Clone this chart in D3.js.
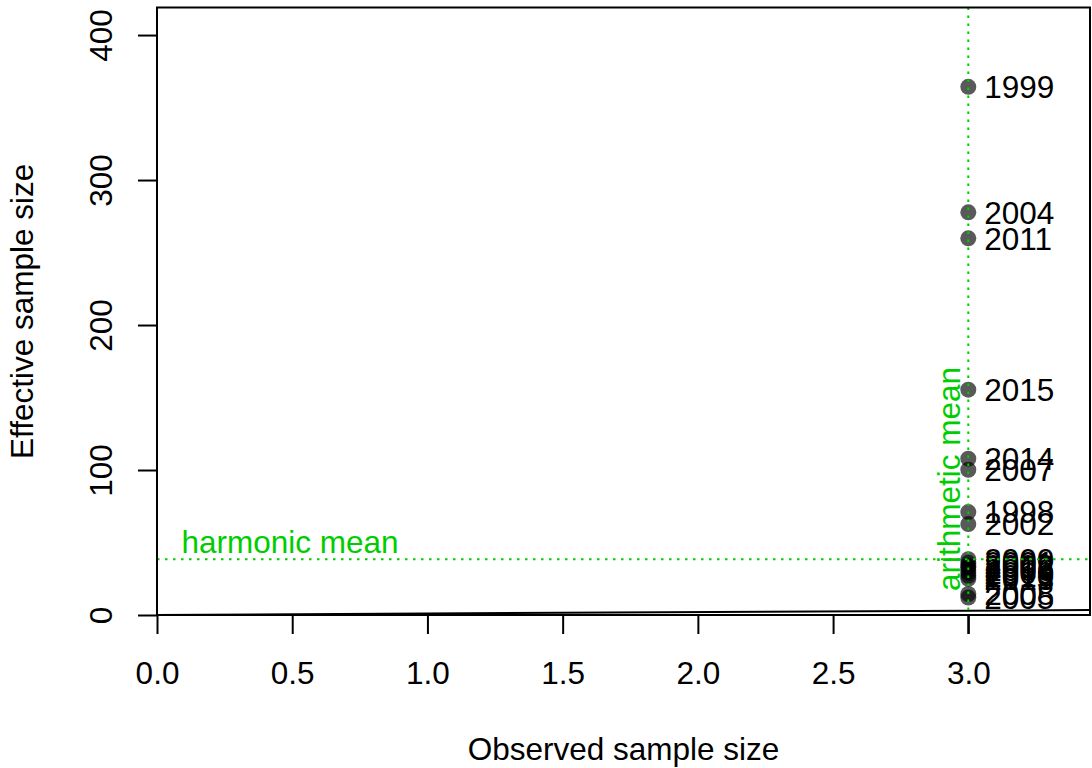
<!DOCTYPE html>
<html><head><meta charset="utf-8">
<script src="https://cdn.jsdelivr.net/npm/d3@7"></script>
<style>body{margin:0;background:#fff}svg{display:block}text{font-family:"Liberation Sans",Arial,sans-serif}</style>
</head><body>
<svg id="c" width="1092" height="768"></svg>
<script>
const years    = [1998, 1999, 2000, 2001, 2002, 2003, 2004, 2005, 2006, 2007, 2008, 2009, 2010, 2011, 2012, 2013, 2014, 2015];
const observed = [3, 3, 3, 3, 3, 3, 3, 3, 3, 3, 3, 3, 3, 3, 3, 3, 3, 3];
const effective= [71, 364.3, 38.5, 36, 62.7, 34, 277.7, 12, 31, 100.2, 14.5, 29, 27, 259.8, 33, 25, 107.8, 155.4];
const harmonicMean = 38.4;
const arithmeticMean = 3;
const xTicks = [0, 0.5, 1, 1.5, 2, 2.5, 3];
const yTicks = [0, 100, 200, 300, 400];
const xLabel = "Observed sample size";
const yLabel = "Effective sample size";

const svg = d3.select("#c");
const L = 157, R = 1090, T = 7.5, B = 615;
const x = d3.scaleLinear().domain([0, 3.45]).range([L, R]);
const y = d3.scaleLinear().domain([0, 419]).range([B, T]);
const FS = 31.5;
const green = "#00CD00";

svg.append("defs").append("clipPath").attr("id","clip")
  .append("rect").attr("x",L).attr("y",T).attr("width",R-L).attr("height",B-T);

// x axis
const xa = svg.append("g").attr("transform",`translate(0,${B})`)
  .call(d3.axisBottom(x).tickValues(xTicks).tickSize(19).tickPadding(28).tickFormat(d3.format(".1f")));
xa.select(".domain").remove();
xa.selectAll("line").attr("stroke","#000").attr("stroke-width",2);
xa.selectAll("text").attr("font-size",FS).attr("fill","#000").style("font-family",'"Liberation Sans",Arial,sans-serif');

// y axis
const ya = svg.append("g").attr("transform",`translate(${L},0)`)
  .call(d3.axisLeft(y).tickValues(yTicks).tickSize(19).tickFormat(d3.format("d")));
ya.select(".domain").remove();
ya.selectAll("line").attr("stroke","#000").attr("stroke-width",2);
ya.selectAll("text").attr("x",null).attr("dy",null).attr("text-anchor","middle")
  .attr("transform",`translate(${112-L},0) rotate(-90)`)
  .attr("font-size",FS).attr("fill","#000").style("font-family",'"Liberation Sans",Arial,sans-serif');

// axis titles
svg.append("text").attr("x",(L+R)/2).attr("y",760).attr("text-anchor","middle")
  .attr("font-size",FS).text(xLabel);
svg.append("text").attr("transform",`translate(33,${(T+B)/2}) rotate(-90)`).attr("text-anchor","middle")
  .attr("font-size",FS).text(yLabel);

const plot = svg.append("g").attr("clip-path","url(#clip)");

// points
const data = years.map((yr,i)=>({yr, o:observed[i], e:effective[i]}));
plot.selectAll("circle").data(data).join("circle")
  .attr("cx",d=>x(d.o)).attr("cy",d=>y(d.e)).attr("r",8)
  .attr("fill","#000").attr("fill-opacity",0.65);

// labels
plot.selectAll("text.lab").data(data).join("text").attr("class","lab")
  .attr("x",d=>x(d.o)+16).attr("y",d=>y(d.e)).attr("dy","0.36em")
  .attr("font-size",FS).attr("fill","#000").text(d=>d.yr);

// y = x line
plot.append("line").attr("x1",x(0)).attr("y1",y(0)).attr("x2",x(3.45)).attr("y2",y(3.45))
  .attr("stroke","#000").attr("stroke-width",2);

// mean lines
plot.append("line").attr("x1",L).attr("x2",R).attr("y1",y(harmonicMean)).attr("y2",y(harmonicMean))
  .attr("stroke",green).attr("stroke-width",2).attr("stroke-dasharray","2.5,5.5");
plot.append("line").attr("x1",x(arithmeticMean)).attr("x2",x(arithmeticMean)).attr("y1",T).attr("y2",B)
  .attr("stroke",green).attr("stroke-width",2).attr("stroke-dasharray","2.5,5.5");
svg.append("line").attr("x1",x(arithmeticMean)).attr("x2",x(arithmeticMean)).attr("y1",B).attr("y2",B+19)
  .attr("stroke","#000").attr("stroke-width",2);

svg.append("text").attr("x",181.5).attr("y",553).attr("font-size",FS).attr("fill",green).text("harmonic mean");
svg.append("text").attr("transform",`translate(960,591) rotate(-90)`).attr("font-size",FS).attr("fill",green).text("arithmetic mean");

// box
svg.append("rect").attr("x",L).attr("y",T).attr("width",R-L).attr("height",B-T)
  .attr("fill","none").attr("stroke","#000").attr("stroke-width",2);
</script>
</body></html>
